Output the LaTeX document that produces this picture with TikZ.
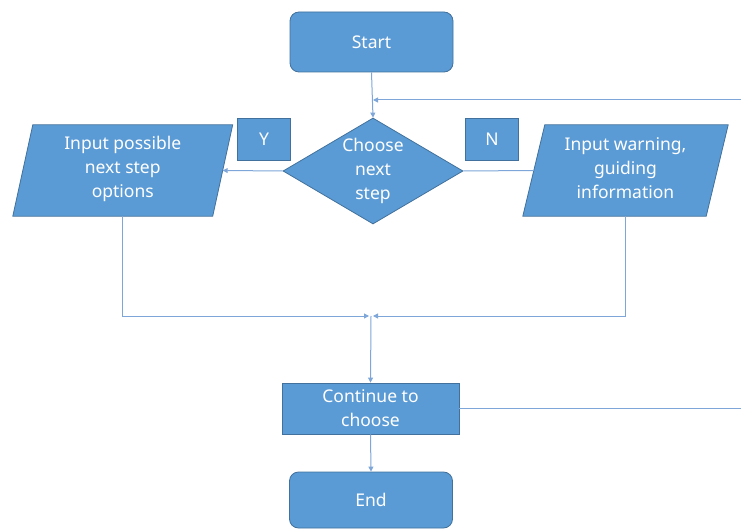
\documentclass[tikz,border=0pt]{standalone}
\usepackage{fontspec}
\setmainfont{Noto Sans}
\usetikzlibrary{shapes.geometric,arrows.meta}
\definecolor{boxblue}{HTML}{5B9BD5}
\definecolor{edgeblue}{HTML}{41719C}
\definecolor{linkblue}{HTML}{7EA6D8}
\tikzset{
  txt/.style={text=white,font=\fontsize{17.5}{24}\selectfont,align=center,inner sep=0pt},
  base/.style={txt,fill=boxblue,draw=edgeblue,line width=0.8pt},
  term/.style={base,rounded corners=9pt,minimum width=163pt,minimum height=60pt},
  proc/.style={base,minimum width=177pt,minimum height=51pt},
  dec/.style={base,diamond,minimum width=180pt,minimum height=106pt},
  paraframe/.style={fill=boxblue,draw=edgeblue,line width=0.8pt},
  lab/.style={base,minimum width=53pt,minimum height=42pt},
  link/.style={draw=linkblue,line width=1pt},
  arr/.style={link,-{Triangle[length=5pt,width=5pt]}}
}
\begin{document}
\begin{tikzpicture}[x=1pt,y=-1pt]
\useasboundingbox (0,0) rectangle (741,529);
\node[term] (start) at (371.5,42) {Start};
\node[dec] (choose) at (373,171) {};
\node[txt] (choosetext) at (choose.center) {Choose\\next\\step};
\node[lab] (y) at (264,139) {Y};
\node[lab] (n) at (492,139) {N};
\node[txt,minimum width=199.5pt,minimum height=91pt] (left) at (122.75,170.5) {};
\node[txt,minimum width=183pt,minimum height=91pt] (right) at (625.5,170.5) {};
\draw[paraframe] ([xshift=10pt]left.north west) -- ([xshift=10pt]left.north east)
  -- ([xshift=-10pt]left.south east) -- ([xshift=-10pt]left.south west) -- cycle;
\draw[paraframe] ([xshift=11pt]right.north west) -- ([xshift=11pt]right.north east)
  -- ([xshift=-11pt]right.south east) -- ([xshift=-11pt]right.south west) -- cycle;
\node[txt] (lefttext) at ([yshift=2pt]left.center) {Input possible\\next step\\options};
\node[txt] (righttext) at ([yshift=2pt]right.center) {Input warning,\\guiding\\information};
\node[proc] (cont) at (370.5,408.5) {Continue to\\choose};
\node[term,minimum height=56pt] (end) at (371,500) {End};
\coordinate (fbtop) at (741,100);
\coordinate (fbjoin) at (373,100);
\coordinate (fbbot) at (741,408.5);
\coordinate (merge) at (371,316);
\coordinate (mergeL) at (369,316);
\coordinate (mergeR) at (373,316);
\draw[arr] (start.south) -- (choose.north);
\draw[arr] (fbtop) -- (fbjoin);
\draw[arr] (choose.west) -- (left.east);
\draw[link] (choose.east) -- (right.west);
\draw[arr] (left.south) |- (mergeL);
\draw[arr] (right.south) |- (mergeR);
\draw[arr] (merge) -- (cont.north);
\draw[link] (cont.east) -- (fbbot);
\draw[arr] (cont.south) -- (end.north);
\end{tikzpicture}
\end{document}
